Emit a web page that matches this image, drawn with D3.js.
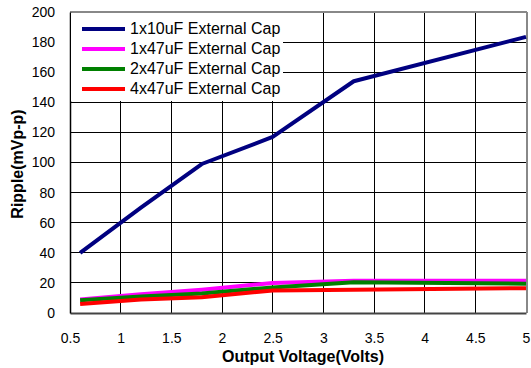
<!DOCTYPE html>
<html><head><meta charset="utf-8">
<script src="https://cdn.jsdelivr.net/npm/d3@7"></script>
<style>body{margin:0;background:#fff}svg{display:block;font-family:"Liberation Sans",Arial,sans-serif}</style>
</head><body><svg id="c" width="531" height="368"></svg>
<script>
const voltages = [0.6, 1.2, 1.8, 2.5, 3.3, 5];
const seriesNames = ["1x10uF External Cap","1x47uF External Cap","2x47uF External Cap","4x47uF External Cap"];
const seriesColors = ["#000080","#ff00ff","#008000","#ff0000"];
const cap1x10 = [40, 70, 99, 117, 154, 183.5];
const cap1x47 = [9, 12.5, 15.5, 20, 21.5, 21.5];
const cap2x47 = [8.5, 11, 13, 17, 20.5, 19.5];
const cap4x47 = [6, 9, 10.5, 15, 15.5, 16.5];
const xTicks = [0.5,1,1.5,2,2.5,3,3.5,4,4.5,5];
const yTicks = [0,20,40,60,80,100,120,140,160,180,200];
const xTitle = "Output Voltage(Volts)";
const yTitle = "Ripple(mVp-p)";

const allSeries = [cap1x10, cap1x47, cap2x47, cap4x47];
const L=70, R=526, T=12, B=313;
const svg = d3.select("#c");
const x = d3.scaleLinear().domain([0.5,5]).range([L,R]);
const y = d3.scaleLinear().domain([0,200]).range([B,T]);

// grid
const g = svg.append("g");
g.selectAll("line.h").data(yTicks.slice(1,-1)).join("line")
  .attr("x1",L).attr("x2",R).attr("y1",d=>y(d)).attr("y2",d=>y(d))
  .attr("stroke","#000").attr("stroke-width",1).attr("shape-rendering","crispEdges");
g.selectAll("line.v").data(xTicks.slice(1,-1)).join("line")
  .attr("y1",T).attr("y2",B).attr("x1",d=>x(d)).attr("x2",d=>x(d))
  .attr("stroke","#000").attr("stroke-width",1).attr("shape-rendering","crispEdges");

// border
svg.append("line").attr("x1",L).attr("x2",R+1).attr("y1",T).attr("y2",T).attr("stroke","#888").attr("stroke-width",2);
svg.append("line").attr("x1",R+1).attr("x2",R+1).attr("y1",T).attr("y2",B).attr("stroke","#888").attr("stroke-width",2);

// axes
const xAxis = svg.append("g").attr("transform",`translate(0,${B})`).call(d3.axisBottom(x).tickValues(xTicks).tickSize(0).tickPadding(20).tickFormat(d=>d));
xAxis.select(".domain").attr("stroke","#444").attr("stroke-width",2);
xAxis.selectAll("text").attr("font-size",14).attr("font-family","Liberation Sans, Arial").attr("fill","#000");
const yAxis = svg.append("g").attr("transform",`translate(${L},0)`).call(d3.axisLeft(y).tickValues(yTicks).tickSize(0).tickPadding(15));
yAxis.select(".domain").attr("stroke","#000").attr("stroke-width",1.5);
yAxis.selectAll("text").attr("font-size",14).attr("font-family","Liberation Sans, Arial").attr("fill","#000");

// lines
const line = d3.line().x((d,i)=>x(voltages[i])).y(d=>y(d));
[0,1,2,3].forEach(k=>{
  svg.append("path").datum(allSeries[k]).attr("d",line).attr("fill","none")
    .attr("stroke",seriesColors[k]).attr("stroke-width",4).attr("stroke-linejoin","round");
});

// legend
const lg = svg.append("g");
lg.append("rect").attr("x",L+1).attr("y",T+1).attr("width",212).attr("height",88).attr("fill","#fff");
const ly = [29,49,69,89];
seriesNames.forEach((n,i)=>{
  lg.append("line").attr("x1",82).attr("x2",125).attr("y1",ly[i]).attr("y2",ly[i]).attr("stroke",seriesColors[i]).attr("stroke-width",4);
  lg.append("text").attr("x",130).attr("y",ly[i]+5).attr("font-size",16).text(n);
});

// titles
svg.append("text").attr("x",303).attr("y",362).attr("text-anchor","middle").attr("font-size",16).attr("font-weight","bold").text(xTitle);
svg.append("text").attr("transform","translate(23,164) rotate(-90)").attr("text-anchor","middle").attr("font-size",16).attr("font-weight","bold").text(yTitle);
</script></body></html>
